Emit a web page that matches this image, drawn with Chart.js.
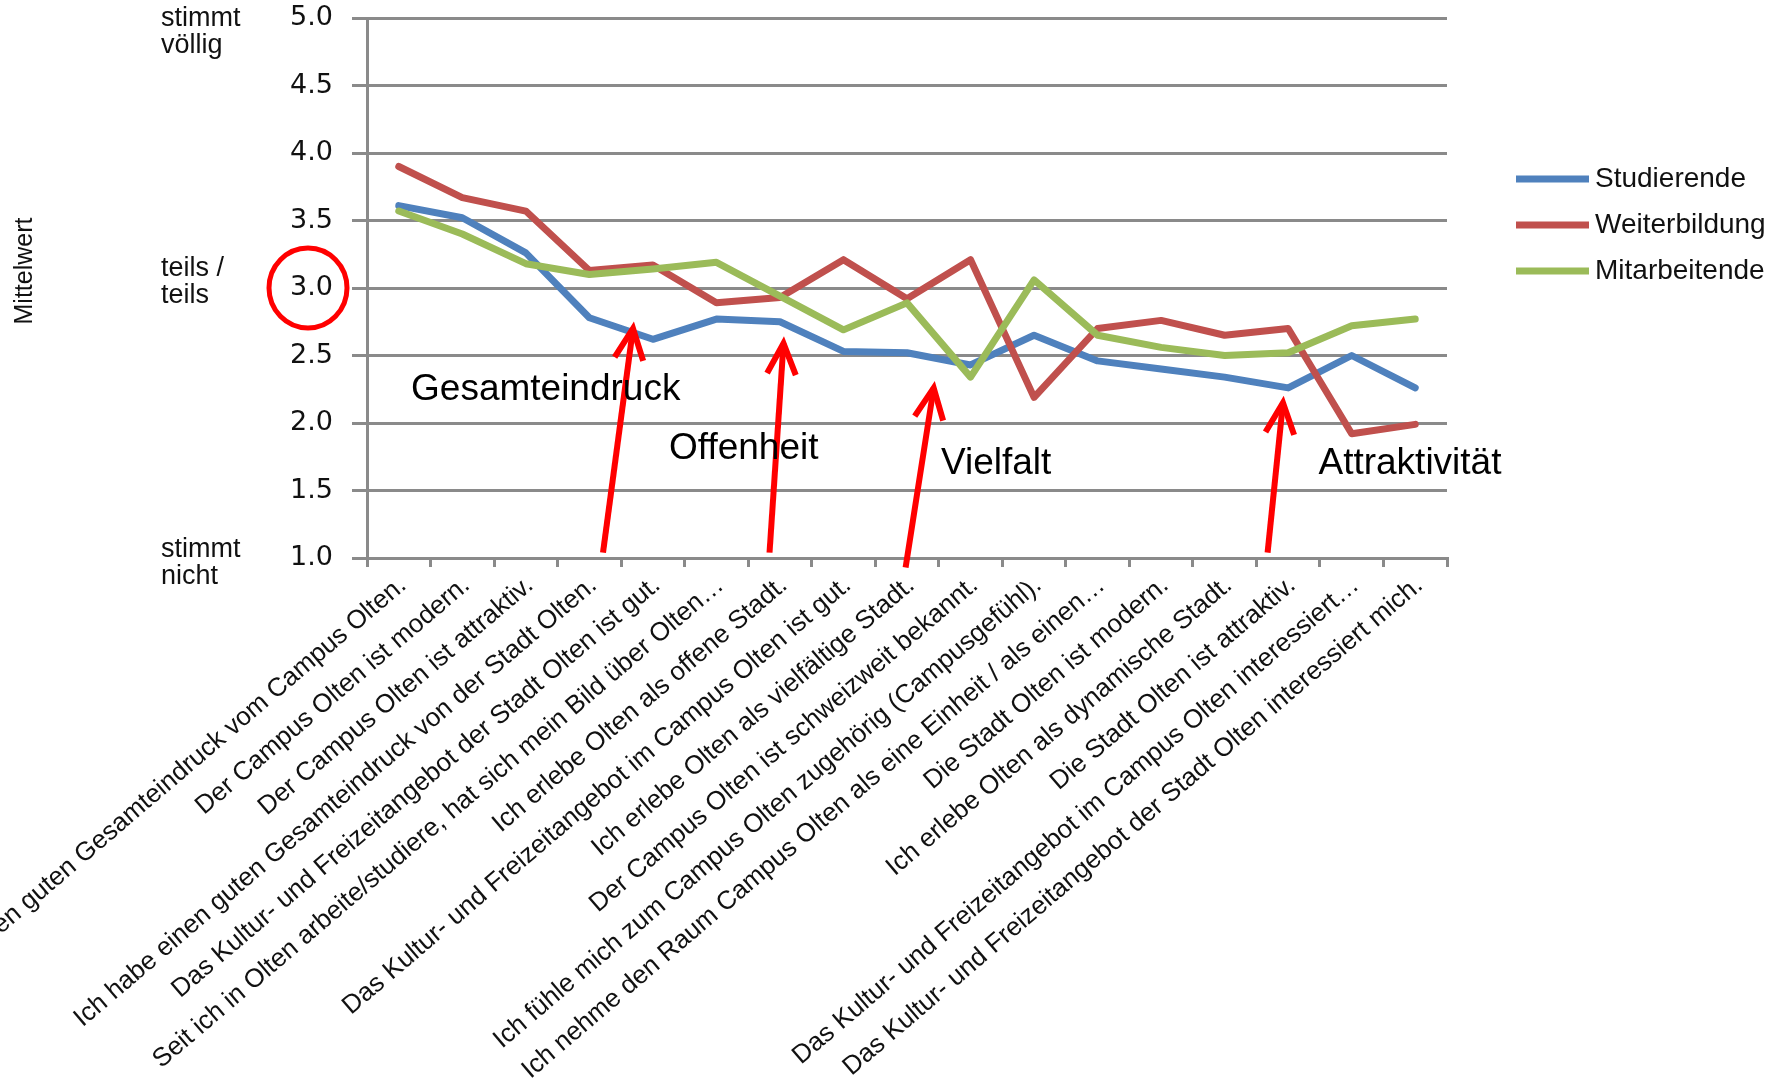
<!DOCTYPE html>
<html>
<head>
<meta charset="utf-8">
<script src="https://cdn.jsdelivr.net/npm/chart.js@4.4.1/dist/chart.umd.min.js"></script>
<style>
  html, body { margin: 0; padding: 0; background: #ffffff; }
  #wrap { width: 1770px; height: 1092px; position: relative; }
  canvas { display: block; }
</style>
</head>
<body>
<div id="wrap"><canvas id="chart" width="1770" height="1092"></canvas></div>
<script>
// Survey statements (x axis)
const categories = [
  'Ich habe einen guten Gesamteindruck vom Campus Olten.',
  'Der Campus Olten ist modern.',
  'Der Campus Olten ist attraktiv.',
  'Ich habe einen guten Gesamteindruck von der Stadt Olten.',
  'Das Kultur- und Freizeitangebot der Stadt Olten ist gut.',
  'Seit ich in Olten arbeite/studiere, hat sich mein Bild über Olten…',
  'Ich erlebe Olten als offene Stadt.',
  'Das Kultur- und Freizeitangebot im Campus Olten ist gut.',
  'Ich erlebe Olten als vielfältige Stadt.',
  'Der Campus Olten ist schweizweit bekannt.',
  'Ich fühle mich zum Campus Olten zugehörig (Campusgefühl).',
  'Ich nehme den Raum Campus Olten als eine Einheit / als einen…',
  'Die Stadt Olten ist modern.',
  'Ich erlebe Olten als dynamische Stadt.',
  'Die Stadt Olten ist attraktiv.',
  'Das Kultur- und Freizeitangebot im Campus Olten interessiert…',
  'Das Kultur- und Freizeitangebot der Stadt Olten interessiert mich.'
];

// Mean agreement per group (1 = stimmt nicht … 5 = stimmt völlig)
const studierende   = [3.61, 3.52, 3.26, 2.78, 2.62, 2.77, 2.75, 2.53, 2.52, 2.43, 2.65, 2.46, 2.40, 2.34, 2.26, 2.50, 2.26];
const weiterbildung = [3.90, 3.67, 3.57, 3.13, 3.17, 2.89, 2.93, 3.21, 2.92, 3.21, 2.19, 2.70, 2.76, 2.65, 2.70, 1.92, 1.99];
const mitarbeitende = [3.57, 3.40, 3.18, 3.10, 3.14, 3.19, 2.94, 2.69, 2.89, 2.34, 3.06, 2.65, 2.56, 2.50, 2.52, 2.72, 2.77];

const seriesNames = ['Studierende', 'Weiterbildung', 'Mitarbeitende'];
const seriesColors = ['#4F81BD', '#C0504D', '#9BBB59'];

// Value axis
const yMin = 1.0;
const yMax = 5.0;
const yStep = 0.5;
const yTitle = 'Mittelwert';

// Verbal anchors of the rating scale
const anchorValues = [5, 3, 1];
const anchorWords = [['stimmt', 'völlig'], ['teils /', 'teils'], ['stimmt', 'nicht']];

// Topic call-outs
const topics = ['Gesamteindruck', 'Offenheit', 'Vielfalt', 'Attraktivität'];

const GRID = '#8a8a8a';
const TEXT = '#111111';

const overlay = {
  id: 'overlay',
  afterDraw(chart) {
    const { ctx } = chart;
    const xs = chart.scales.x, ys = chart.scales.y;
    const px = i => xs.getPixelForValue(i);
    const py = v => ys.getPixelForValue(v);
    ctx.save();

    // verbal anchors beside the value ticks
    const anchorShift = [1, -19, -8];
    ctx.font = '27px "Liberation Sans", Arial, sans-serif';
    ctx.fillStyle = TEXT;
    ctx.textAlign = 'left';
    ctx.textBaseline = 'middle';
    anchorWords.forEach((lines, k) => {
      const base = py(anchorValues[k]) + anchorShift[k];
      lines.forEach((t, j) => ctx.fillText(t, 161, base + j * 27));
    });

    // axis title
    ctx.save();
    ctx.translate(25, 271);
    ctx.rotate(-Math.PI / 2);
    ctx.textAlign = 'center';
    ctx.font = '25px "Liberation Sans", Arial, sans-serif';
    ctx.fillText(yTitle, 0, 0);
    ctx.restore();

    // red ring around the neutral mid-point
    ctx.strokeStyle = '#FF0000';
    ctx.lineWidth = 5;
    ctx.beginPath();
    ctx.ellipse(308, py(3), 39, 40, 0, 0, Math.PI * 2);
    ctx.stroke();

    // arrows: [from index, from value, to index, to value]
    const arrows = [
      [3.215, 1.04, 3.687, 2.70],
      [5.836, 1.04, 6.056, 2.59],
      [7.978, 0.93, 8.420, 2.26],
      [13.676, 1.04, 13.918, 2.15]
    ];
    ctx.lineWidth = 6;
    ctx.lineJoin = 'miter';
    arrows.forEach(a => {
      const x0 = px(a[0]), y0 = py(a[1]), x1 = px(a[2]), y1 = py(a[3]);
      ctx.beginPath();
      ctx.moveTo(x0, y0);
      ctx.lineTo(x1, y1);
      ctx.stroke();
      const ang = Math.atan2(y0 - y1, x0 - x1);
      const len = 34, spread = 25 * Math.PI / 180;
      ctx.beginPath();
      ctx.moveTo(x1 + len * Math.cos(ang - spread), y1 + len * Math.sin(ang - spread));
      ctx.lineTo(x1, y1);
      ctx.lineTo(x1 + len * Math.cos(ang + spread), y1 + len * Math.sin(ang + spread));
      ctx.stroke();
    });

    // topic captions: [index, value] of the text's left baseline
    const topicAt = [[0.193, 2.17], [4.254, 1.733], [8.535, 1.622], [14.477, 1.622]];
    ctx.font = '37px "Liberation Sans", Arial, sans-serif';
    ctx.fillStyle = '#000000';
    ctx.textBaseline = 'alphabetic';
    topics.forEach((t, k) => ctx.fillText(t, px(topicAt[k][0]), py(topicAt[k][1])));

    // legend
    ctx.font = '28px "Liberation Sans", Arial, sans-serif';
    ctx.textBaseline = 'middle';
    ctx.lineCap = 'butt';
    chart.data.datasets.forEach((ds, k) => {
      const yy = 179 + k * 46;
      ctx.strokeStyle = ds.borderColor;
      ctx.lineWidth = 7;
      ctx.beginPath();
      ctx.moveTo(1516, yy);
      ctx.lineTo(1589, yy);
      ctx.stroke();
      ctx.fillStyle = TEXT;
      ctx.fillText(ds.label, 1595, yy);
    });

    ctx.restore();
  }
};

const series = [studierende, weiterbildung, mitarbeitende];

new Chart(document.getElementById('chart'), {
  type: 'line',
  data: {
    labels: categories,
    datasets: series.map((d, k) => ({
      label: seriesNames[k],
      data: d,
      borderColor: seriesColors[k],
      backgroundColor: seriesColors[k],
      order: 3 - k
    }))
  },
  options: {
    responsive: false,
    animation: false,
    devicePixelRatio: 1,
    layout: { padding: { top: 18, right: 323, bottom: 0, left: 0 } },
    elements: {
      line: { borderWidth: 7, tension: 0, borderJoinStyle: 'round', borderCapStyle: 'round', fill: false },
      point: { radius: 0, hoverRadius: 0 }
    },
    plugins: { legend: { display: false }, tooltip: { enabled: false } },
    scales: {
      x: {
        offset: true,
        grid: { offset: true, drawOnChartArea: false, drawTicks: true, tickLength: 9, color: GRID, lineWidth: 3 },
        border: { display: true, color: GRID, width: 3 },
        ticks: {
          autoSkip: false,
          minRotation: 40.5,
          maxRotation: 40.5,
          padding: 3,
          labelOffset: 4,
          color: TEXT,
          font: { family: '"Liberation Sans", Arial, sans-serif', size: 26 }
        },
        afterFit(scale) {
          scale.height = 534;
          scale.paddingLeft = 0;
          scale.paddingRight = 0;
        }
      },
      y: {
        min: yMin,
        max: yMax,
        grid: { color: GRID, lineWidth: 3, drawTicks: true, tickLength: 15 },
        border: { display: true, color: GRID, width: 3 },
        ticks: {
          stepSize: yStep,
          padding: 19,
          color: TEXT,
          font: { family: '"DejaVu Sans", Verdana, sans-serif', size: 27 },
          callback: v => Number(v).toFixed(1)
        },
        afterFit(scale) {
          scale.width = 367;
          scale.paddingTop = 0;
          scale.paddingBottom = 0;
        }
      }
    }
  },
  plugins: [overlay]
});
</script>
</body>
</html>
